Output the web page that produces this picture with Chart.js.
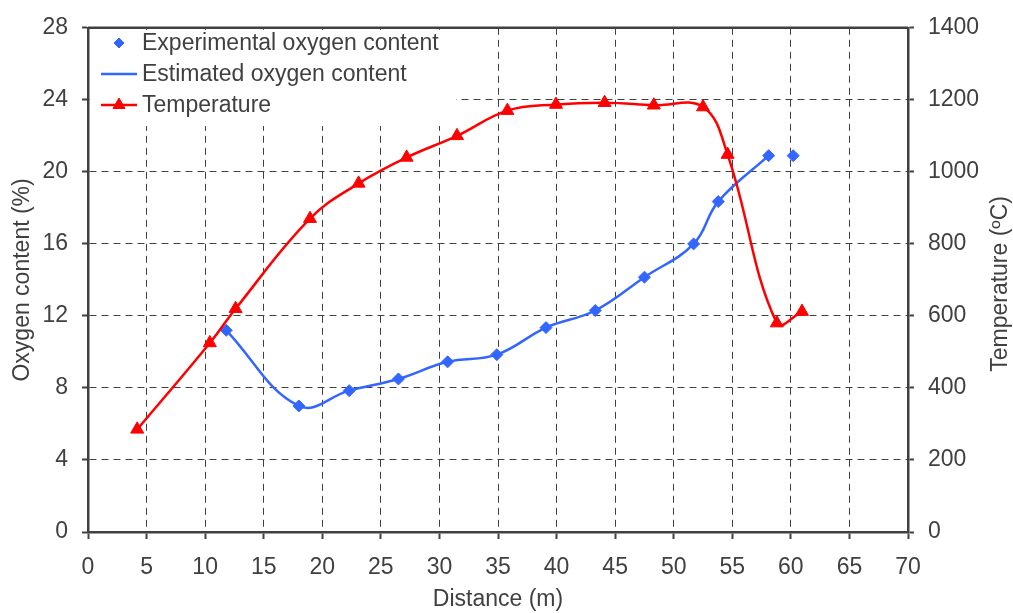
<!DOCTYPE html>
<html>
<head>
<meta charset="utf-8">
<script src="https://cdn.jsdelivr.net/npm/chart.js@4.4.1/dist/chart.umd.min.js"></script>
<style>
  html, body { margin: 0; padding: 0; background: #fff; }
  #wrap { width: 1013px; height: 613px; }
</style>
</head>
<body>
<div id="wrap"><canvas id="myChart" width="1013" height="613"></canvas></div>
<script>
// data
const oxyDist = [11.8, 18.0, 22.3, 26.5, 30.7, 34.9, 39.1, 43.3, 47.5, 51.7, 53.8, 58.1, 60.2];
const oxyExp = [11.2, 7.0, 7.85, 8.5, 9.45, 9.85, 11.35, 12.3, 14.15, 16.0, 18.35, 20.9, 20.9];
const estDist = [11.8, 18.0, 22.3, 26.5, 30.7, 34.9, 39.1, 43.3, 47.5, 51.7, 53.8, 58.1];
const estOxy = [11.2, 7.0, 7.85, 8.5, 9.45, 9.85, 11.35, 12.3, 14.15, 16.0, 18.35, 20.9];
const tempDist = [4.2, 10.4, 12.6, 18.95, 23.1, 27.2, 31.5, 35.8, 39.95, 44.1, 48.3, 52.5, 54.6, 58.8, 60.95];
const tempVal = [285, 525, 620, 870, 968, 1040, 1100, 1170, 1187, 1192, 1185, 1180, 1048, 580, 612];
const rightTitle = 'Temperature (ºC)';

const blue = '#3366ff';
const red = '#ff0000';
const dark = '#404040';
const fontFamily = "'Liberation Sans', Arial, sans-serif";

Chart.defaults.font.family = fontFamily;
Chart.defaults.font.size = 23;
Chart.defaults.color = dark;

const toXY = (xs, ys) => xs.map((x, i) => ({ x: x, y: ys[i] }));

// legend inside the plot on a white box, top frame line, right title (reads bottom to top)
const boxLegend = {
    id: 'boxLegend',
    afterDraw(chart) {
        const ctx = chart.ctx;
        const a = chart.chartArea;
        ctx.save();
        ctx.strokeStyle = dark;
        ctx.lineWidth = 2.5;
        ctx.beginPath();
        ctx.moveTo(a.left, a.top);
        ctx.lineTo(a.right, a.top);
        ctx.stroke();

        ctx.fillStyle = '#fff';
        ctx.fillRect(a.left + 2, a.top + 2, 456 - a.left - 2, 126 - a.top - 2);

        ctx.font = '23px ' + fontFamily;
        ctx.textBaseline = 'middle';
        ctx.textAlign = 'left';
        const ds = chart.data.datasets;
        const rows = [43, 74, 105];
        rows.forEach((y, i) => {
            const d = ds[i];
            const cx = 119;
            if (d.showLine !== false) {
                ctx.strokeStyle = d.borderColor;
                ctx.lineWidth = 2.5;
                ctx.beginPath();
                ctx.moveTo(101, y);
                ctx.lineTo(137, y);
                ctx.stroke();
            }
            if (d.pointRadius > 0) {
                ctx.fillStyle = d.pointBackgroundColor;
                ctx.strokeStyle = d.pointBorderColor;
                ctx.lineWidth = 1;
                Chart.helpers.drawPoint(ctx, {
                    pointStyle: d.pointStyle, radius: d.pointStyle === 'rectRot' ? 5 : 7,
                    rotation: 0, borderWidth: 1
                }, cx, y);
            }
            ctx.fillStyle = dark;
            ctx.fillText(d.label, 142, y + 1);
        });

        ctx.translate(1001, (a.top + a.bottom) / 2 + 4);
        ctx.rotate(-Math.PI / 2);
        ctx.textAlign = 'center';
        ctx.fillText(rightTitle, 0, 0);
        ctx.restore();
    }
};

const ctx = document.getElementById('myChart').getContext('2d');

const myChart = new Chart(ctx, {
    type: 'scatter',
    data: {
        datasets: [{
            label: 'Experimental oxygen content',
            data: toXY(oxyDist, oxyExp),
            showLine: false,
            pointStyle: 'rectRot',
            pointRadius: 6,
            pointBackgroundColor: blue,
            pointBorderColor: blue,
            pointBorderWidth: 1,
            yAxisID: 'y',
            order: 1
        }, {
            label: 'Estimated oxygen content',
            data: toXY(estDist, estOxy),
            showLine: true,
            borderColor: blue,
            borderWidth: 2.5,
            tension: 0.4,
            pointRadius: 0,
            yAxisID: 'y',
            order: 2
        }, {
            label: 'Temperature',
            data: toXY(tempDist, tempVal),
            showLine: true,
            borderColor: red,
            borderWidth: 2.5,
            tension: 0.4,
            pointStyle: 'triangle',
            pointRadius: 7.5,
            pointBackgroundColor: red,
            pointBorderColor: red,
            pointBorderWidth: 1,
            yAxisID: 'y2',
            order: 0
        }]
    },
    options: {
        responsive: false,
        animation: false,
        layout: { padding: { top: 20, left: 0, right: 0, bottom: 0 } },
        plugins: {
            legend: { display: false },
            tooltip: { enabled: false }
        },
        scales: {
            x: {
                type: 'linear',
                position: 'bottom',
                min: 0,
                max: 70,
                afterFit: (s) => { s.height = 81; },
                ticks: { stepSize: 5, padding: 15, maxRotation: 0 },
                grid: {
                    color: dark,
                    lineWidth: 1,
                    tickLength: 7,
                    tickColor: dark,
                    tickWidth: 2,
                    tickBorderDash: []
                },
                border: { display: true, color: dark, width: 2.5, dash: [7, 5] },
                title: { display: true, text: 'Distance (m)', padding: 0 }
            },
            y: {
                position: 'left',
                min: 0,
                max: 28,
                afterFit: (s) => { s.width = 88; },
                ticks: { stepSize: 4, padding: 14 },
                grid: {
                    color: dark,
                    lineWidth: 1,
                    tickLength: 6,
                    tickColor: dark,
                    tickWidth: 2,
                    tickBorderDash: []
                },
                border: { display: true, color: dark, width: 2.5, dash: [7, 5] },
                title: { display: true, text: 'Oxygen content (%)', padding: 9 }
            },
            y2: {
                position: 'right',
                min: 0,
                max: 1400,
                afterFit: (s) => { s.width = 105; },
                ticks: { stepSize: 200, padding: 14, callback: (v) => String(v) },
                grid: {
                    drawOnChartArea: false,
                    tickLength: 6,
                    tickColor: dark,
                    tickWidth: 2
                },
                border: { display: true, color: dark, width: 2.5 },
                title: { display: false }
            }
        }
    },
    plugins: [boxLegend]
});
</script>
</body>
</html>
